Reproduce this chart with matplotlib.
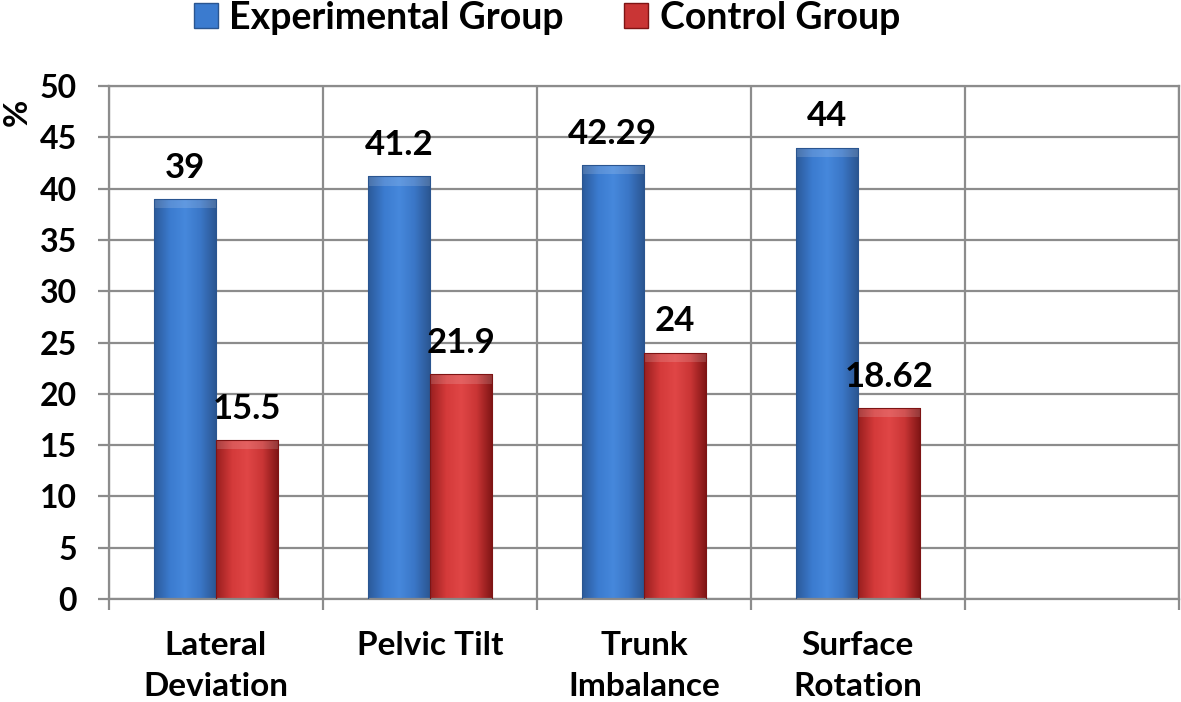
#!/usr/bin/env python3
"""Bar chart: Experimental vs Control group (%) for four posture measures."""

import numpy as np
import matplotlib.pyplot as plt
from matplotlib.patches import Rectangle
from matplotlib.colors import LinearSegmentedColormap

CATEGORIES = ["Lateral\nDeviation", "Pelvic Tilt", "Trunk\nImbalance", "Surface\nRotation", ""]
EXPERIMENTAL = [39, 41.2, 42.29, 44]
CONTROL = [15.5, 21.9, 24, 18.62]
EXP_LABELS = ["39", "41.2", "42.29", "44"]
CTRL_LABELS = ["15.5", "21.9", "24", "18.62"]
Y_TICKS = [0, 5, 10, 15, 20, 25, 30, 35, 40, 45, 50]

FONT = ["Lato", "DejaVu Sans"]
GRID = "#8c8c8c"

blue_cmap = LinearSegmentedColormap.from_list(
    "blue", ["#2b5a9a", "#3b7bcf", "#4688dc", "#3a76c6", "#2a5590"])
red_cmap = LinearSegmentedColormap.from_list(
    "red", ["#9a1f1f", "#d43a3a", "#e04646", "#c93535", "#7e1414"])

plt.rcParams["font.family"] = FONT
plt.rcParams["font.weight"] = "bold"

fig = plt.figure(figsize=(11.81, 7.02), dpi=100)
ax = fig.add_axes([0.0923, 0.1467, 0.9057, 0.7308])

x = np.arange(len(CATEGORIES))
n = len(EXPERIMENTAL)
width = 0.29
grad = np.linspace(0, 1, 64).reshape(1, -1)


def gradient_bars(bars, cmap, edge):
    for b in bars:
        b.set_facecolor("none")
        b.set_edgecolor(edge)
        b.set_linewidth(0.8)
        x0, y0 = b.get_x(), b.get_y()
        w, h = b.get_width(), b.get_height()
        im = ax.imshow(grad, cmap=cmap, aspect="auto",
                       extent=(x0, x0 + w, y0, y0 + h), zorder=2.5)
        clip = Rectangle((x0, y0), w, h, transform=ax.transData)
        im.set_clip_path(clip)
        # soft bevel at the top of the bar
        bevel = Rectangle((x0, y0 + h - 0.9), w, 0.9, facecolor="white",
                          alpha=0.15, edgecolor="none", zorder=2.6)
        ax.add_patch(bevel)


b_exp = ax.bar(x[:n] - width / 2, EXPERIMENTAL, width, label="Experimental Group",
               color="#3b7bcf", zorder=3)
b_ctrl = ax.bar(x[:n] + width / 2, CONTROL, width, label="Control Group",
                color="#d43a3a", zorder=3)
gradient_bars(b_exp, blue_cmap, "#2a5590")
gradient_bars(b_ctrl, red_cmap, "#7e1414")

for bars, labels in ((b_exp, EXP_LABELS), (b_ctrl, CTRL_LABELS)):
    for b, lab in zip(bars, labels):
        ax.annotate(lab, (b.get_x() + b.get_width() / 2, b.get_height()),
                    textcoords="offset points", xytext=(0, 11), ha="center",
                    va="bottom", fontsize=25, fontweight="bold")

ax.set_xlim(-0.5, len(CATEGORIES) - 0.5)
ax.set_ylim(0, 50)
ax.set_yticks(Y_TICKS)
ax.set_yticklabels([str(t) for t in Y_TICKS], fontsize=23, fontweight="bold")
ax.set_xticks(x)
ax.set_xticklabels(CATEGORIES, fontsize=24, fontweight="bold", va="top",
                   linespacing=1.5)
ax.set_xticks(np.arange(-0.5, len(CATEGORIES)), minor=True)

ax.tick_params(axis="x", which="major", length=0, pad=23)
ax.tick_params(axis="x", which="minor", length=8, width=1.6, color=GRID)
ax.tick_params(axis="y", which="major", length=8, width=1.6, color=GRID, pad=15)

ax.yaxis.grid(True, color=GRID, linewidth=1.6, zorder=0)
ax.xaxis.grid(True, which="minor", color=GRID, linewidth=1.6, zorder=0)
ax.set_axisbelow(True)
for sp in ax.spines.values():
    sp.set_color(GRID)
    sp.set_linewidth(1.6)

fig.text(17 / 1181, 1 - 112 / 702, "%", fontsize=24, fontweight="bold",
         rotation=90, ha="center", va="center")

handles = [Rectangle((0, 0), 1, 1, facecolor="#3b7bcf", edgecolor="#2a5590"),
           Rectangle((0, 0), 1, 1, facecolor="#c93535", edgecolor="#7e1414")]
fig.legend(handles, ["Experimental Group", "Control Group"], loc="upper center",
           bbox_to_anchor=(0.463, 1.047), ncol=2, frameon=False,
           handlelength=0.65, handleheight=0.65, handletextpad=0.3,
           columnspacing=1.6, prop={"family": FONT, "weight": "bold", "size": 27})

fig.savefig("out.png", dpi=100, facecolor="white")
